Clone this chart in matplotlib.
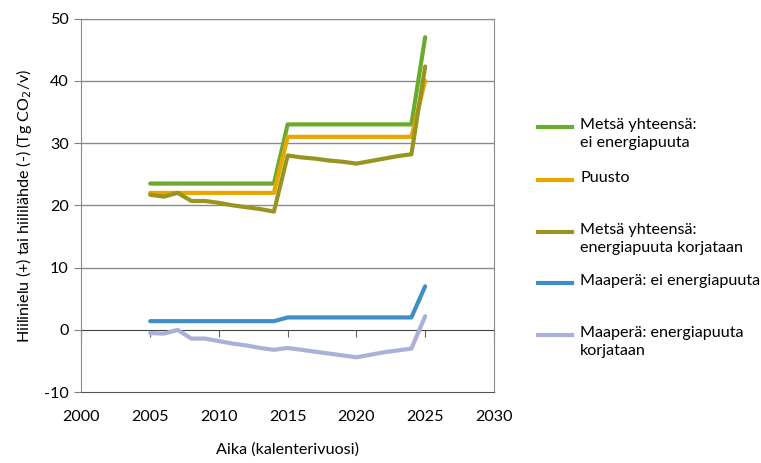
import numpy as np
import matplotlib
matplotlib.use('Agg')
import matplotlib.pyplot as plt
from matplotlib.lines import Line2D

plt.rcParams['font.family'] = ['Lato', 'DejaVu Sans']

# data
years = list(range(2005, 2026))
metsa_ei = [23.5] * 10 + [33.0] * 10 + [47.0]
puusto = [22.0] * 10 + [31.0] * 10 + [40.0]
metsa_korj = [21.7, 21.4, 22.0, 20.7, 20.7, 20.4, 20.0, 19.7, 19.4, 19.0,
              28.0, 27.7, 27.5, 27.2, 27.0, 26.7,
              27.1, 27.5, 27.9, 28.2, 42.3]
maapera_ei = [1.4] * 10 + [2.0] * 10 + [7.0]
maapera_korj = [-0.5, -0.6, 0.0, -1.4, -1.4, -1.8, -2.2, -2.5, -2.9, -3.2,
                -2.9, -3.2, -3.5, -3.8, -4.1, -4.4,
                -4.0, -3.6, -3.3, -3.0, 2.2]

series = [
    (metsa_ei, '#6aab2c', 'Metsä yhteensä:\nei energiapuuta'),
    (puusto, '#e8a600', 'Puusto'),
    (metsa_korj, '#97951f', 'Metsä yhteensä:\nenergiapuuta korjataan'),
    (maapera_ei, '#3f8fc6', 'Maaperä: ei energiapuuta'),
    (maapera_korj, '#a9b1d9', 'Maaperä: energiapuuta\nkorjataan'),
]

xticks = [2000, 2005, 2010, 2015, 2020, 2025, 2030]
yticks = [-10, 0, 10, 20, 30, 40, 50]

fs = 11.6

fig = plt.figure(figsize=(7.61, 4.63), dpi=100)
ax = fig.add_axes([0.107, 0.153, 0.542, 0.807])

for vals, col, lab in series:
    ax.plot(years, vals, color=col, lw=3.0, solid_capstyle='round', zorder=3)

ax.set_xlim(2000, 2030)
ax.set_ylim(-10, 50)
ax.set_xticks(xticks)
ax.set_yticks(yticks)
ax.set_yticklabels([str(v) for v in yticks], fontsize=fs)
ax.set_xticklabels([str(v) for v in xticks], fontsize=fs)
ax.tick_params(axis='x', length=0, pad=13)
ax.tick_params(axis='y', length=5, color='#808080', direction='out', pad=4)

for y in yticks:
    if y not in (0, -10):
        ax.axhline(y, color='#8a8a8a', lw=1, zorder=1)
for side in ['left', 'right', 'top']:
    ax.spines[side].set_color('#8a8a8a')
ax.spines['bottom'].set_color('#555555')

# zero line with tick marks
sec = ax.secondary_xaxis(10 / 60)
sec.set_xticks(xticks)
sec.tick_params(axis='x', length=5, color='#666666', labelbottom=False, direction='out')
sec.spines['bottom'].set_color('#444444')

ax.set_xlabel('Aika (kalenterivuosi)', fontsize=fs, labelpad=13)
ax.set_ylabel('Hiilinielu (+) tai hiililähde (-) (Tg CO$_2$/v)', fontsize=fs, labelpad=7)

# legend on the right, handle aligned with the first text line
leg_y = [127, 180, 232, 283, 335]
W, H = 761, 463
for (vals, col, lab), yp in zip(series, leg_y):
    fy = 1 - yp / H
    fig.add_artist(Line2D([538 / W, 572 / W], [fy, fy], color=col, lw=3.0,
                          transform=fig.transFigure))
    fig.text(580 / W, fy + 8.5 / H, lab, fontsize=fs, va='top', ha='left',
             linespacing=1.3)

fig.savefig('out.png', dpi=100)
